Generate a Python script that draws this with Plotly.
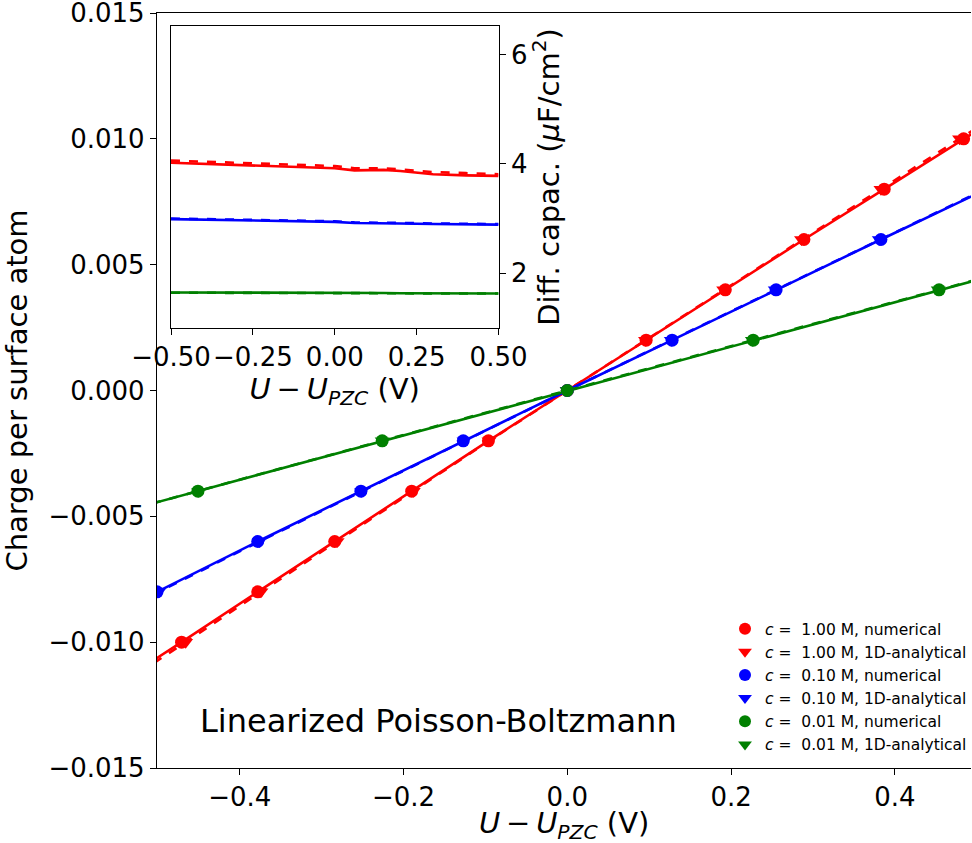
import plotly.graph_objects as go

# ---------------- data ----------------
conc_labels = ["1.00", "0.10", "0.01"]
colors = ["red", "blue", "green"]

charges_red = [-0.012, -0.010, -0.008, -0.006, -0.004, -0.002, 0.0, 0.002, 0.004, 0.006, 0.008, 0.010, 0.012]
V_red_num = [-0.566, -0.471, -0.378, -0.284, -0.190, -0.0963, 0.0, 0.0963, 0.193, 0.289, 0.387, 0.484, 0.582]
V_red_an = [-0.560, -0.466, -0.374, -0.281, -0.188, -0.0955, 0.0, 0.0955, 0.191, 0.286, 0.383, 0.479, 0.576]

charges_blue = [-0.010, -0.008, -0.006, -0.004, -0.002, 0.0, 0.002, 0.004, 0.006, 0.008, 0.010]
V_blue_num = [-0.628, -0.501, -0.378, -0.252, -0.127, 0.0, 0.128, 0.255, 0.383, 0.512, 0.642]
V_blue_an = [-0.625, -0.499, -0.376, -0.251, -0.126, 0.0, 0.127, 0.254, 0.381, 0.509, 0.638]

charges_green = [-0.006, -0.004, -0.002, 0.0, 0.002, 0.004, 0.006]
V_green_num = [-0.678, -0.451, -0.226, 0.0, 0.227, 0.454, 0.683]
V_green_an = [-0.677, -0.450, -0.226, 0.0, 0.226, 0.453, 0.681]

# inset: differential capacitance
V_inset = [-0.5, -0.4, -0.3, -0.2, -0.1, 0.0, 0.06, 0.1, 0.15, 0.2, 0.3, 0.4, 0.5]
C_red_num = [4.02, 4.00, 3.98, 3.96, 3.94, 3.92, 3.88, 3.88, 3.89, 3.87, 3.81, 3.79, 3.78]
C_red_an = [4.06, 4.04, 4.02, 4.00, 3.98, 3.96, 3.92, 3.92, 3.92, 3.90, 3.85, 3.83, 3.81]
C_blue_num = [2.99, 2.98, 2.97, 2.96, 2.95, 2.94, 2.92, 2.92, 2.92, 2.91, 2.90, 2.89, 2.89]
C_blue_an = [3.00, 2.99, 2.98, 2.97, 2.96, 2.95, 2.93, 2.93, 2.93, 2.92, 2.91, 2.90, 2.90]
C_green_num = [1.65, 1.65, 1.645, 1.645, 1.64, 1.64, 1.64, 1.64, 1.64, 1.635, 1.635, 1.63, 1.63]
C_green_an = [1.645, 1.645, 1.64, 1.64, 1.64, 1.64, 1.635, 1.635, 1.635, 1.635, 1.63, 1.63, 1.63]

x_ticks = [-0.4, -0.2, 0.0, 0.2, 0.4]
y_ticks = [-0.015, -0.010, -0.005, 0.0, 0.005, 0.010, 0.015]
inset_x_ticks = [-0.5, -0.25, 0.0, 0.25, 0.5]
inset_y_ticks = [2, 4, 6]

FONT = "DejaVu Sans"
series = [
    (charges_red, V_red_num, V_red_an, C_red_num, C_red_an),
    (charges_blue, V_blue_num, V_blue_an, C_blue_num, C_blue_an),
    (charges_green, V_green_num, V_green_an, C_green_num, C_green_an),
]

fig = go.Figure()

LW = 2.6
MS = 13
for (q, vn, va, cn, ca), col, lab in zip(series, colors, conc_labels):
    fig.add_trace(go.Scatter(x=vn, y=q, mode="lines", line=dict(color=col, width=LW),
                             showlegend=False, hoverinfo="skip"))
    fig.add_trace(go.Scatter(x=va, y=q, mode="lines", line=dict(color=col, width=LW, dash="dash"),
                             showlegend=False, hoverinfo="skip"))
for (q, vn, va, cn, ca), col, lab in zip(series, colors, conc_labels):
    fig.add_trace(go.Scatter(x=vn, y=q, mode="markers",
                             marker=dict(color=col, size=MS, symbol="circle"),
                             name=f"<i>c</i> =  {lab} M, numerical"))
    fig.add_trace(go.Scatter(x=va, y=q, mode="markers",
                             marker=dict(color=col, size=MS, symbol="triangle-down"),
                             name=f"<i>c</i> =  {lab} M, 1D-analytical"))
# inset
for (q, vn, va, cn, ca), col in zip(series, colors):
    fig.add_trace(go.Scatter(x=V_inset, y=cn, mode="lines", line=dict(color=col, width=LW),
                             xaxis="x2", yaxis="y2", showlegend=False, hoverinfo="skip"))
    fig.add_trace(go.Scatter(x=V_inset, y=ca, mode="lines", line=dict(color=col, width=LW, dash="dash"),
                             xaxis="x2", yaxis="y2", showlegend=False, hoverinfo="skip"))

utitle = "<i>U</i>\u2009−\u2009<i>U</i><sub><i>PZC</i></sub> (V)"
TICKF = dict(family=FONT, size=26, color="black")
TITLEF = dict(family=FONT, size=29, color="black")

common = dict(showgrid=False, zeroline=False, showline=True, linecolor="black", linewidth=1.3,
              ticks="outside", ticklen=6, tickwidth=1.2, tickcolor="black", tickfont=TICKF,
              automargin=False, ticklabeloverflow="allow")

fig.update_layout(
    width=972, height=843,
    margin=dict(l=157, r=0, t=13, b=75),
    paper_bgcolor="white", plot_bgcolor="white",
    font=dict(family=FONT, color="black"),
    xaxis=dict(range=[-0.501, 0.493], tickvals=x_ticks, tickformat=".1f", mirror=True, **common),
    yaxis=dict(range=[-0.015, 0.015], tickvals=y_ticks, tickformat=".3f", mirror=False,
               title=dict(text="Charge per surface atom", font=TITLEF, standoff=12), **common),
    xaxis2=dict(domain=[0.0172, 0.4196], anchor="y2", range=[-0.5, 0.5], tickvals=inset_x_ticks,
                tickformat=".2f", mirror=True,
                title=dict(text=utitle, font=TITLEF, standoff=0), **common),
    yaxis2=dict(domain=[0.5828, 0.9828], anchor="x2", side="right", range=[1.0, 6.52],
                tickvals=inset_y_ticks, mirror=True,
                title=dict(text="Diff. capac. (<i>μ</i>F/cm<sup>2</sup>)", font=TITLEF, standoff=6),
                **common),
    legend=dict(x=0.698, y=0.2065, xanchor="left", yanchor="top", bgcolor="rgba(0,0,0,0)",
                borderwidth=0, font=dict(family=FONT, size=15.5, color="black"),
                itemsizing="constant"),
    annotations=[
        dict(text="Linearized Poisson-Boltzmann", xref="paper", yref="paper",
             x=0.3454, y=0.0623, xanchor="center", yanchor="middle", showarrow=False,
             font=dict(family=FONT, size=32, color="black")),
        dict(text=utitle, xref="paper", yref="paper", x=0.5, y=-0.0755,
             xanchor="center", yanchor="middle", showarrow=False, font=TITLEF),
    ],
)

fig.write_html("out.html")
